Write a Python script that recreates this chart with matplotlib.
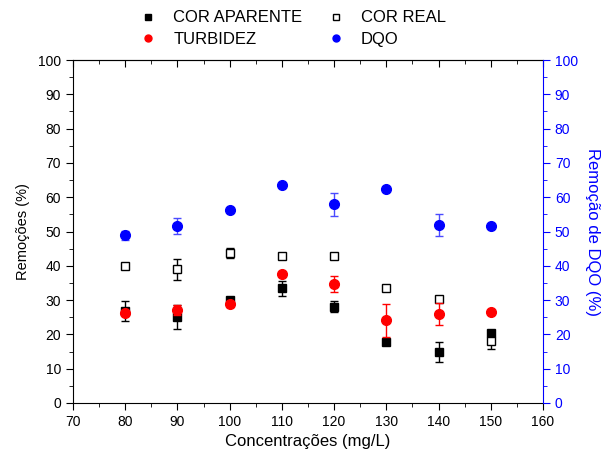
import matplotlib
matplotlib.use("Agg")
import matplotlib.pyplot as plt
from matplotlib.ticker import MultipleLocator
from matplotlib.lines import Line2D

plt.rcParams['font.family'] = ['Liberation Sans', 'DejaVu Sans']

conc = [80, 90, 100, 110, 120, 130, 140, 150]
cor_aparente = [26.8, 25.0, 30.0, 33.4, 28.1, 17.9, 14.9, 20.3]
cor_aparente_err = [2.9, 3.5, 0.5, 2.3, 1.7, 0.8, 3.0, 0.8]
cor_real = [39.9, 39.0, 43.8, 43.0, 43.0, 33.6, 30.4, 18.1]
cor_real_err = [0.3, 3.1, 1.5, 0.3, 0.3, 0.3, 0.5, 2.4]
turbidez = [26.2, 27.1, 28.8, 37.6, 34.7, 24.1, 25.9, 26.6]
turbidez_err = [0.5, 1.4, 0.8, 0.3, 2.4, 4.9, 3.2, 0.3]
dqo = [48.9, 51.5, 56.4, 63.5, 57.9, 62.4, 51.9, 51.7]
dqo_err = [1.3, 2.3, 0.3, 0.3, 3.3, 0.3, 3.1, 0.3]

fig = plt.figure(figsize=(6.04, 4.59), dpi=100)
ax = fig.add_axes([73/604, 1-403/459, (543-73)/604, (403-60)/459])
ax2 = ax.twinx()

ms = 6
ax.errorbar(conc, cor_aparente, yerr=cor_aparente_err, fmt='s', color='black',
            ms=ms, capsize=3, elinewidth=1, zorder=3)
ax.errorbar(conc, cor_real, yerr=cor_real_err, fmt='s', color='black', mfc='white',
            ms=ms, capsize=3, elinewidth=1, zorder=3)
ax.errorbar(conc, turbidez, yerr=turbidez_err, fmt='o', color='red',
            ms=7, capsize=3, elinewidth=1, zorder=4)
ax2.errorbar(conc, dqo, yerr=dqo_err, fmt='o', color='blue', ecolor='#4a4aff',
             ms=7, capsize=3, elinewidth=1, zorder=4)

ax.set_xlim(70, 160)
ax.set_ylim(0, 100)
ax2.set_ylim(0, 100)
ax.xaxis.set_major_locator(MultipleLocator(10))
ax.xaxis.set_minor_locator(MultipleLocator(5))
for a in (ax, ax2):
    a.yaxis.set_major_locator(MultipleLocator(10))
    a.yaxis.set_minor_locator(MultipleLocator(5))

ax.tick_params(axis='x', which='both', direction='out', bottom=True, top=False, labelsize=10)
ax.tick_params(axis='y', which='both', direction='out', labelsize=10)
ax.tick_params(which='major', length=5)
ax.tick_params(which='minor', length=3)
ax2.tick_params(axis='y', which='both', direction='out', colors='blue', labelsize=10)
ax2.tick_params(which='major', length=5)
ax2.tick_params(which='minor', length=3)
ax2.spines['right'].set_color('blue')
ax2.spines['left'].set_visible(False)
ax2.spines['top'].set_visible(False)
ax2.spines['bottom'].set_visible(False)
ax.spines['right'].set_visible(False)

# top ticks pointing inward
sec = ax.secondary_xaxis('top')
sec.xaxis.set_major_locator(MultipleLocator(10))
sec.xaxis.set_minor_locator(MultipleLocator(5))
sec.tick_params(which='both', direction='in', labeltop=False)
sec.tick_params(which='major', length=5)
sec.tick_params(which='minor', length=3)
sec.spines['top'].set_color('#444444')

ax.set_xlabel('Concentrações (mg/L)', fontsize=12)
ax.set_ylabel('Remoções (%)', fontsize=10.5, labelpad=6)
ax2.set_ylabel('Remoção de DQO (%)', fontsize=12, color='blue', rotation=-90, labelpad=16)

handles = [
    Line2D([], [], ls='none', marker='s', color='black', ms=5),
    Line2D([], [], ls='none', marker='o', color='red', ms=5),
    Line2D([], [], ls='none', marker='s', color='black', mfc='white', ms=5),
    Line2D([], [], ls='none', marker='o', color='blue', ms=5),
]
fig.legend(handles, ['COR APARENTE', 'TURBIDEZ', 'COR REAL', 'DQO'],
           ncol=2, loc='upper center', bbox_to_anchor=(0.485, 1.01), frameon=False,
           fontsize=12, handlelength=1.0, columnspacing=1.5,
           labelspacing=0.4, handletextpad=1.0)

fig.savefig('out.png', dpi=100)
